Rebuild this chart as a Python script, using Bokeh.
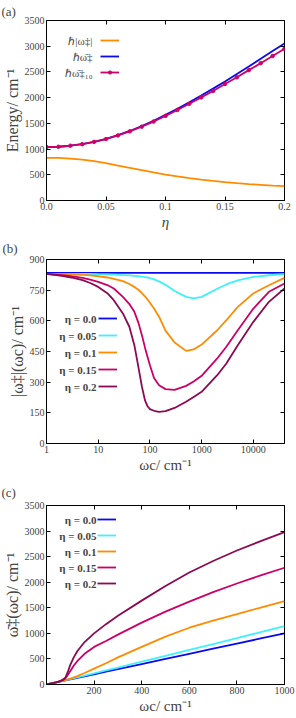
from bokeh.plotting import figure
from bokeh.layouts import column
from bokeh.models import (Legend, LegendItem, Label, LinearAxis, LogAxis,
                          FixedTicker, Range1d, CustomJSTickFormatter)
from bokeh.core.properties import value
from bokeh.embed import file_html
from bokeh.resources import INLINE

FONT = "Liberation Serif"

# ---------------- panel (a) ----------------
eta = [0.0, 0.01, 0.02, 0.03, 0.04, 0.05, 0.06, 0.07, 0.08, 0.09, 0.10,
       0.11, 0.12, 0.13, 0.14, 0.15, 0.16, 0.17, 0.18, 0.19, 0.20]
abs_omega = [830, 828, 815, 795, 765, 725, 680, 635, 590, 545, 505,
             468, 435, 405, 380, 357, 338, 320, 305, 290, 278]
omega_bar = [1040, 1045, 1065, 1098, 1142, 1198, 1270, 1352, 1445, 1550, 1665,
             1785, 1910, 2040, 2175, 2315, 2460, 2605, 2755, 2905, 3055]
omega_bar10 = [1040, 1045, 1065, 1095, 1140, 1195, 1265, 1345, 1435, 1535, 1645,
               1760, 1880, 2005, 2130, 2265, 2395, 2535, 2670, 2810, 2950]
a_labels = ["ℏ|ω‡|", "ℏω̄‡", "ℏω̄‡₁₀"]
a_xticks = [0.0, 0.05, 0.1, 0.15, 0.2]
a_xtick_labels = ["0.0", "0.05", "0.1", "0.15", "0.2"]
a_yticks = [0, 500, 1000, 1500, 2000, 2500, 3000, 3500]

# ---------------- panel (b) ----------------
wc_b = [1, 2, 3, 5, 7, 10, 15, 20, 30, 40, 50, 60, 70, 80, 90, 100, 120, 150,
        200, 300, 500, 700, 1000, 2000, 3000, 5000, 10000, 20000, 40000]
b_eta000 = [835] * len(wc_b)
b_eta005 = [830, 830, 830, 829, 829, 828, 827, 826, 824, 822, 820, 818, 816, 814,
            812, 809, 803, 793, 776, 746, 717, 710, 717, 757, 778, 798, 815, 823, 828]
b_eta010 = [830, 829, 828, 825, 822, 818, 812, 805, 794, 780, 766, 752, 735, 720,
            704, 688, 660, 620, 552, 494, 453, 460, 484, 554, 603, 668, 734, 774, 810]
b_eta015 = [830, 823, 819, 810, 801, 791, 775, 758, 717, 682, 644, 590, 530, 470,
            423, 383, 320, 285, 266, 262, 282, 303, 331, 416, 473, 554, 660, 742, 783]
b_eta020 = [830, 820, 812, 799, 785, 766, 735, 701, 636, 571, 481, 372, 278, 212,
            182, 168, 160, 155, 158, 174, 204, 228, 253, 334, 391, 481, 595, 693, 758]
b_xticks = [1, 10, 100, 1000, 10000]
b_xtick_labels = ["1", "10", "100", "1000", "10000"]
b_yticks = [0, 150, 300, 450, 600, 750, 900]

# ---------------- panel (c) ----------------
wc_c = [0, 20, 40, 60, 70, 80, 90, 100, 115, 130, 160, 200, 250, 300, 400, 500,
        600, 700, 800, 900, 1000]
c_eta000 = [0, 20, 40, 60, 70, 80, 90, 100, 115, 130, 160, 200, 250, 300, 400, 500,
            600, 700, 800, 900, 1000]
c_eta005 = [0, 21, 42, 63, 74, 85, 96, 107, 123, 140, 173, 218, 275, 332, 445, 560,
            675, 790, 905, 1025, 1140]
c_eta010 = [0, 20, 42, 64, 76, 88, 100, 115, 140, 165, 225, 310, 415, 530, 735, 935,
            1110, 1250, 1375, 1505, 1632]
c_eta015 = [0, 20, 42, 68, 85, 120, 190, 265, 370, 461, 600, 735, 850, 975, 1210, 1425,
            1620, 1805, 1975, 2135, 2283]
c_eta020 = [0, 20, 42, 72, 100, 140, 250, 385, 535, 655, 830, 1000, 1180, 1345, 1640,
            1925, 2190, 2415, 2620, 2805, 2980]
c_xticks = [0, 200, 400, 600, 800, 1000]
c_xtick_labels = ["", "200", "400", "600", "800", "1000"]
c_yticks = [0, 500, 1000, 1500, 2000, 2500, 3000, 3500]

eta_labels = ["η = 0.0", "η = 0.05", "η = 0.1", "η = 0.15", "η = 0.2"]
eta_colors = ["#0a0af0", "#3ff0ff", "#ff8c00", "#cc0066", "#8c0a52"]

TICK_FS = "10px"
XLABEL_FS = "15px"
YLABEL_FS = "16px"


def style_axis(ax, ticks, labels=None, show_labels=True, label_fs=XLABEL_FS):
    ax.ticker = FixedTicker(ticks=ticks)
    if show_labels and labels is not None:
        ax.major_label_overrides = {t: l for t, l in zip(ticks, labels)}
    if not show_labels:
        ax.formatter = CustomJSTickFormatter(code="return '';")
    ax.major_tick_in = 4
    ax.major_tick_out = 0
    ax.minor_tick_line_color = None
    ax.axis_line_color = "black"
    ax.major_tick_line_color = "black"
    ax.major_label_text_font = FONT
    ax.major_label_text_font_size = TICK_FS if show_labels else "1px"
    ax.major_label_standoff = 2 if show_labels else 0
    ax.axis_label_text_font = FONT
    ax.axis_label_text_font_size = label_fs
    ax.axis_label_text_font_style = "normal"
    ax.axis_label_standoff = 1


def make_fig(width, height, borders, x_range, y_range, tag, tag_standoff, log_x=False):
    p = figure(width=width, height=height, output_backend="svg",
               toolbar_location=None, x_range=x_range, y_range=y_range,
               x_axis_type="log" if log_x else "linear",
               min_border_left=borders[0], min_border_right=borders[1],
               min_border_top=borders[2], min_border_bottom=borders[3])
    p.xgrid.visible = False
    p.ygrid.visible = False
    p.outline_line_color = "black"
    p.outline_line_width = 1
    p.background_fill_color = "white"
    p.border_fill_color = "white"
    p.title.text = tag
    p.title.align = "left"
    p.title.offset = -borders[0] + 1
    p.title.standoff = tag_standoff
    p.title.text_font = FONT
    p.title.text_font_size = "13px"
    p.title.text_font_style = "normal"
    return p


def mirror(p, xticks, yticks, log_x=False):
    top = LogAxis() if log_x else LinearAxis()
    right = LinearAxis()
    style_axis(top, xticks, show_labels=False)
    style_axis(right, yticks, show_labels=False)
    top.axis_line_color = None
    right.axis_line_color = None
    p.add_layout(top, "above")
    p.add_layout(right, "right")


def side_legend(p, renderers, labels, text_x, glyph_x, low_center, pitch, bold, gh=8):
    """Labels on the left, line samples on the right (gnuplot style)."""
    n = len(labels)
    items = [LegendItem(label=value(" "), renderers=r) for r in renderers]
    leg = Legend(items=items, location=(glyph_x, low_center - gh / 2),
                 orientation="vertical", padding=0, margin=0, spacing=pitch - gh,
                 glyph_width=19, glyph_height=gh, label_height=gh, label_width=1,
                 label_standoff=0, label_text_font_size="2px",
                 border_line_color=None, background_fill_alpha=0)
    p.add_layout(leg)
    for i, lab in enumerate(labels):
        yc = low_center + pitch * (n - 1 - i)
        p.add_layout(Label(x=text_x, y=yc, x_units="screen", y_units="screen",
                           text=lab, text_font=FONT, text_font_size="11px",
                           text_font_style="bold" if bold else "normal",
                           text_align="right", text_baseline="middle"))


# ---------- figure (a) ----------
pa = make_fig(296, 232, (46, 6, 20, 32), Range1d(0, 0.2), Range1d(0, 3500), "(a)", 3)
style_axis(pa.xaxis[0], a_xticks, a_xtick_labels)
style_axis(pa.yaxis[0], a_yticks, label_fs=YLABEL_FS)
pa.xaxis[0].axis_label = "η"
pa.xaxis[0].axis_label_text_font_style = "italic"
pa.yaxis[0].axis_label = "Energy/ cm⁻¹"
mirror(pa, a_xticks, a_yticks)
ra1 = pa.line(eta, abs_omega, line_color="#ff8c00", line_width=1.8)
ra2 = pa.line(eta, omega_bar, line_color="#0a0af0", line_width=1.8)
ra3 = pa.line(eta, omega_bar10, line_color="#d0006a", line_width=1.8)
ra3m = pa.scatter(eta, omega_bar10, size=3.5, color="#d0006a")
side_legend(pa, [[ra1], [ra2], [ra3, ra3m]], a_labels, 46, 54, 128, 16, False)

# ---------- figure (b) ----------
pb = make_fig(296, 244, (45, 3, 27, 33), Range1d(1, 40000), Range1d(0, 900), "(b)", 7,
              log_x=True)
style_axis(pb.xaxis[0], b_xticks, b_xtick_labels)
style_axis(pb.yaxis[0], b_yticks, label_fs=YLABEL_FS)
pb.xaxis[0].axis_label = "ωc/ cm⁻¹"
pb.yaxis[0].axis_label = "|ω‡|(ωc)/ cm⁻¹"
mirror(pb, b_xticks, b_yticks, log_x=True)
rb = []
for ys, col in zip([b_eta000, b_eta005, b_eta010, b_eta015, b_eta020], eta_colors):
    rb.append([pb.line(wc_b, ys, line_color=col, line_width=1.8)])
side_legend(pb, rb, eta_labels, 50, 52, 57, 17, True)

# ---------- figure (c) ----------
pc = make_fig(296, 242, (46, 12, 29, 34), Range1d(0, 1000), Range1d(0, 3500), "(c)", 11)
style_axis(pc.xaxis[0], c_xticks, c_xtick_labels)
style_axis(pc.yaxis[0], c_yticks, label_fs=YLABEL_FS)
pc.xaxis[0].axis_label = "ωc/ cm⁻¹"
pc.yaxis[0].axis_label = "ω̄‡(ωc)/ cm⁻¹"
mirror(pc, c_xticks, c_yticks)
rc = []
for ys, col in zip([c_eta000, c_eta005, c_eta010, c_eta015, c_eta020], eta_colors):
    rc.append([pc.line(wc_c, ys, line_color=col, line_width=1.8)])
side_legend(pc, rc, eta_labels, 50, 51, 101, 16, True)

layout = column(pa, pb, pc, spacing=0)
open("out.html", "w").write(file_html(layout, INLINE))
